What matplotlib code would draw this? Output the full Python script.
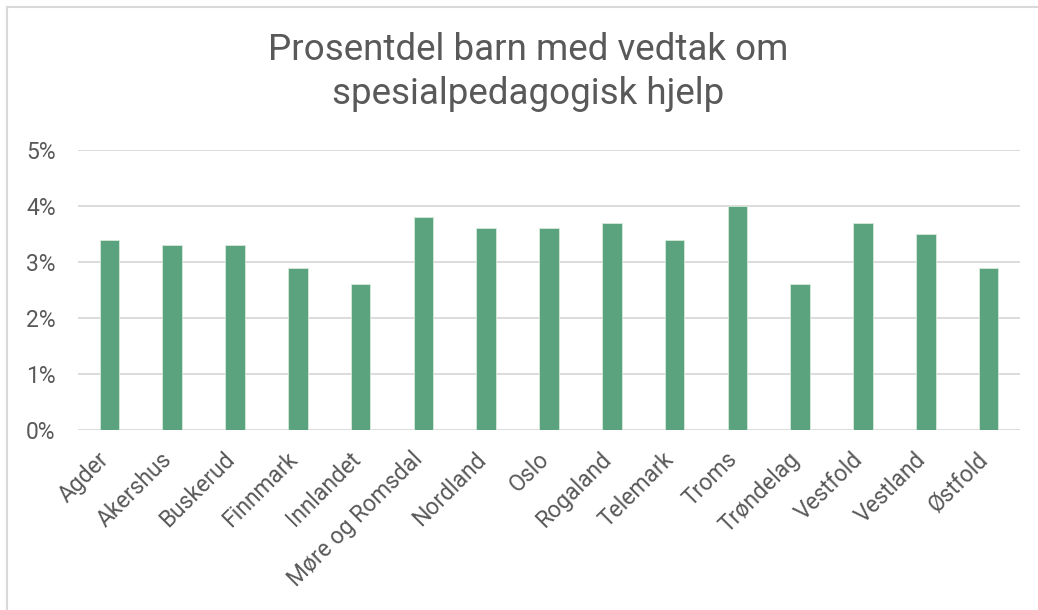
import matplotlib
matplotlib.use("Agg")
import matplotlib.pyplot as plt
from matplotlib.lines import Line2D
from matplotlib.ticker import PercentFormatter
from matplotlib.transforms import ScaledTranslation

fylker = ["Agder", "Akershus", "Buskerud", "Finnmark", "Innlandet",
          "Møre og Romsdal", "Nordland", "Oslo", "Rogaland", "Telemark",
          "Troms", "Trøndelag", "Vestfold", "Vestland", "Østfold"]
andel = [3.4, 3.3, 3.3, 2.9, 2.6, 3.8, 3.6, 3.6, 3.7, 3.4,
         4.0, 2.6, 3.7, 3.5, 2.9]
yticks = [0, 1, 2, 3, 4, 5]

plt.rcParams['font.family'] = ['Roboto', 'DejaVu Sans']
text_color = '#595959'
grid_color = '#D9D9D9'

fig = plt.figure(figsize=(10.38, 6.10), dpi=100)
ax = fig.add_axes([0.0751, 0.2951, 0.9076, 0.4590])

x = list(range(len(fylker)))
ax.bar(x, andel, width=0.31, color='#5BA37E', edgecolor='#D6EBDD', linewidth=0.6, zorder=3)

ax.set_xlim(-0.5, len(fylker) - 0.5)
ax.set_ylim(0, 5)
ax.set_yticks(yticks)
ax.yaxis.set_major_formatter(PercentFormatter(decimals=0))
ax.grid(axis='y', color=grid_color, linewidth=1.3, zorder=0)
for s in ax.spines.values():
    s.set_visible(False)
ax.tick_params(axis='y', length=0, pad=16, labelsize=16.5, labelcolor=text_color)
ax.tick_params(axis='x', length=0, pad=10, labelsize=16.5, labelcolor=text_color)
ax.set_xticks(x)
ax.set_xticklabels(fylker, rotation=45, ha='right', va='top', rotation_mode='anchor')
# nudge rotated labels so their ends sit just left of/below the ticks
for lbl in ax.get_xticklabels():
    lbl.set_transform(lbl.get_transform() + ScaledTranslation(-0.12, -0.04, fig.dpi_scale_trans))

fig.text(0.5085, 0.948, "Prosentdel barn med vedtak om\nspesialpedagogisk hjelp",
         ha='center', va='top', fontsize=26.5, color=text_color, linespacing=1.28)

# chart frame (left and top edges visible)
fig.add_artist(Line2D([7/1038, 7/1038], [0, 1 - 7/610], transform=fig.transFigure,
                      color=grid_color, linewidth=1.5))
fig.add_artist(Line2D([7/1038, 1], [1 - 7/610, 1 - 7/610], transform=fig.transFigure,
                      color=grid_color, linewidth=1.5))

fig.savefig("out.png", dpi=100)
